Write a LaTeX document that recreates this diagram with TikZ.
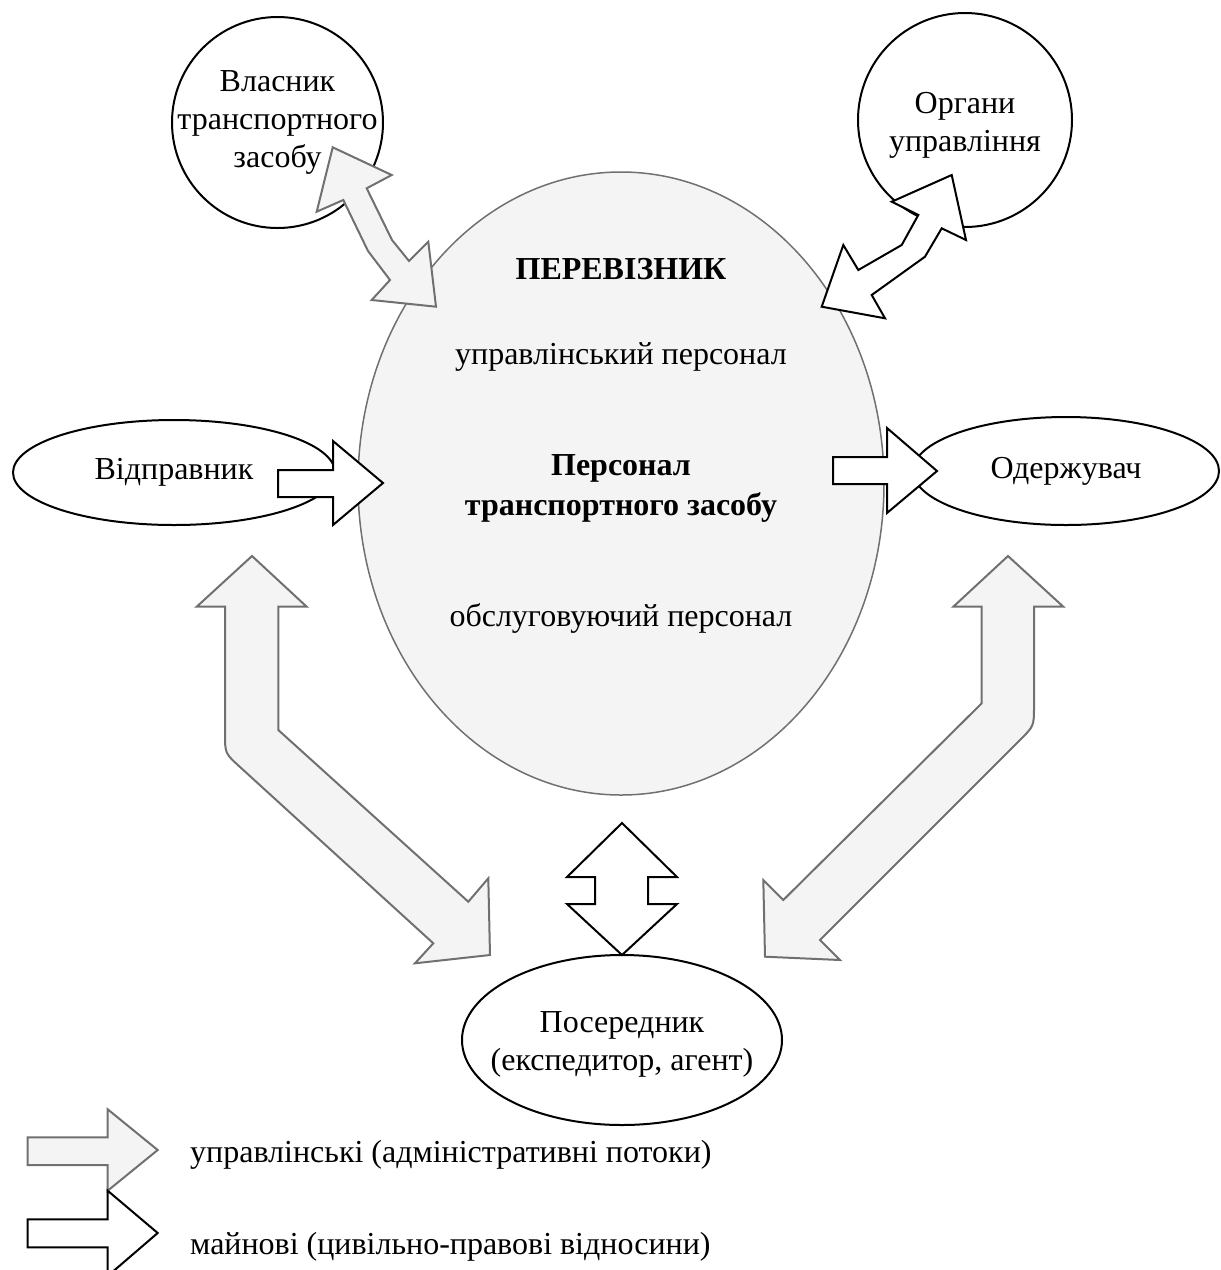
\documentclass[tikz,border=0pt]{standalone}
\usepackage{fontspec}
\setmainfont{Liberation Serif}
\usetikzlibrary{shapes.geometric}
\definecolor{flowfill}{RGB}{244,244,244}
\definecolor{flowline}{RGB}{112,112,112}

\begin{document}
\begin{tikzpicture}[x=1pt, y=-1pt,
            lbl/.style={align=center, font=\fontsize{32}{38}\selectfont},
            boldlbl/.style={align=center, font=\fontsize{32}{40}\selectfont\bfseries},
            party/.style={draw=black, fill=white, line width=2pt, inner sep=0pt},
            mgmt/.style={draw=flowline, fill=flowfill, line width=2pt},
            prop/.style={draw=black, fill=white, line width=2pt}]
            \useasboundingbox (0,0) rectangle (1221,1270);

            \node[ellipse, draw=flowline, fill=flowfill, line width=1.5pt, inner sep=0pt, minimum width=526pt, minimum height=623pt] (carrier) at (621,483.5){};
            \node[boldlbl] (carriername) at (621,268.6){ПЕРЕВІЗНИК};
            \node[lbl] (mgmtstaff) at (621,356.7){управлінський персонал};
            \node[boldlbl] (crew) at (621,488){Персонал\\транспортного засобу};
            \node[lbl] (servicestaff) at (621,618.8){обслуговуючий персонал};

            \node[circle, party, minimum size=211pt, label={[lbl]center:Власник\\транспортного\\засобу}] (owner) at (277.5,122.5){};
            \node[circle, party, minimum size=214pt, label={[lbl, yshift=-5pt]center:Органи\\управління}] (authority) at (965,120){};
            \node[ellipse, party, minimum width=322pt, minimum height=105pt, label={[lbl]center:Відправник}] (sender) at (174,472.5){};
            \node[ellipse, party, minimum width=306pt, minimum height=108pt, label={[lbl]center:Одержувач}] (receiver) at (1066,471){};
            \node[ellipse, party, minimum width=320pt, minimum height=170pt, label={[lbl, yshift=-4pt]center:Посередник\\(експедитор, агент)}] (agent) at (622,1040){};

            \draw[mgmt] (332.7,147.3) -- (391.7,175) -- (366.7,188.3) -- (392,240) -- (409,261) -- (428.3,241.7) -- (436,306.7)
                -- (371.7,300) -- (390,280) -- (368,251) -- (343.3,200) -- (316.7,211.7) -- cycle;
            \draw[prop] (951.7,175) -- (966,240) -- (941.7,228.3) -- (925,256.7) -- (871.7,295) -- (885,318.3) -- (821.7,306.7)
                -- (843.3,245) -- (858.3,270) -- (901.7,245) -- (918.3,215) -- (891.7,201.7) -- cycle;

            \draw[prop] (278,470) -- (333,470) -- (333,441) -- (383,483) -- (333,525) -- (333,497) -- (278,497) -- cycle;
            \draw[prop] (833,457) -- (887,457) -- (887,428) -- (937,471) -- (887,513) -- (887,484) -- (833,484) -- cycle;
            \draw[prop] (622,823) -- (677,877) -- (648,877) -- (648,904) -- (677,904) -- (622,955) -- (567,904) -- (595,904)
                -- (595,877) -- (567,877) -- cycle;

            \draw[mgmt] (252,556) -- (306.7,606.7) -- (278.3,606.7) -- (278.3,730) -- (468.3,901.7) -- (488.3,878.3) -- (490,955)
                -- (415,963.3) -- (433.3,943.3) -- (239.8,766.8) .. controls (225,753.4) .. (225,733) -- (225,606.7) -- (196.7,606.7) -- cycle;
            \draw[mgmt] (1008,556) -- (1063.3,606.7) -- (1034,606.7) -- (1034,706) .. controls (1034,726) .. (1019.9,740.1) -- (820,940)
                -- (840,960) -- (765,956.7) -- (763.3,880) -- (783.3,900) -- (981.7,703.3) -- (981.7,606.7) -- (953.3,606.7) -- cycle;

            \draw[mgmt] (27.7,1137.3) -- (107.7,1137.3) -- (107.7,1109.3) -- (157.7,1150) -- (107.7,1190.7) -- (107.7,1165) -- (27.7,1165) -- cycle;
            \draw[prop] (27.7,1219.3) -- (107.7,1219.3) -- (107.7,1190.7) -- (157.7,1233) -- (107.7,1276) -- (107.7,1247.3) -- (27.7,1247.3) -- cycle;
            \node[lbl, anchor=base west, inner sep=0pt] (mgmtkey) at (190,1162){управлінські (адміністративні потоки)};
            \node[lbl, anchor=base west, inner sep=0pt] (propkey) at (190,1254){майнові (цивільно-правові відносини)};
        \end{tikzpicture}
\end{document}
